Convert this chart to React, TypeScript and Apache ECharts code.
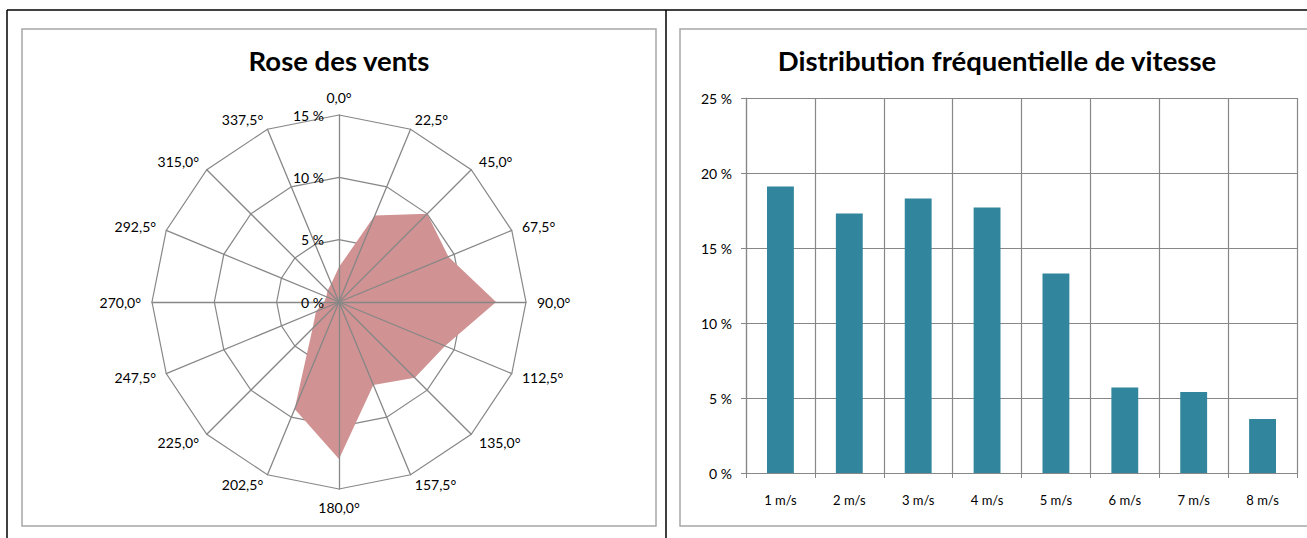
import React, { useEffect, useRef } from "react";
import * as echarts from "echarts";

// ---- Data ----
const directions = [
  "0,0°", "22,5°", "45,0°", "67,5°", "90,0°", "112,5°", "135,0°", "157,5°",
  "180,0°", "202,5°", "225,0°", "247,5°", "270,0°", "292,5°", "315,0°", "337,5°",
];
const windFreq = [2.8, 7.5, 10.0, 9.5, 12.6, 9.2, 8.6, 7.2, 12.6, 9.3, 3.0, 2.0, 1.2, 1.1, 1.3, 1.6];
const roseMax = 15;
const roseSplits = 3;

const speedCategories = ["1 m/s", "2 m/s", "3 m/s", "4 m/s", "5 m/s", "6 m/s", "7 m/s", "8 m/s"];
const speedFreq = [19.1, 17.3, 18.3, 17.7, 13.3, 5.7, 5.4, 3.6];
const speedMax = 25;
const speedInterval = 5;

const FONT = "Lato, 'Open Sans', sans-serif";
const GRID = "#878787";

export default function App() {
  const ref = useRef<HTMLDivElement>(null);

  useEffect(() => {
    if (!ref.current) return;
    const chart = echarts.init(ref.current, null, { renderer: "svg" });

    // ECharts radar goes counter-clockwise; reorder so compass directions run clockwise
    const order = [0, ...Array.from({ length: directions.length - 1 }, (_, k) => directions.length - 1 - k)];
    const gridIndicators = order.map((i) => ({ name: directions[i], min: 0, max: roseMax }));
    const spokeIndicators = order.map((i, k) =>
      k === 0
        ? {
            name: directions[i],
            min: 0,
            max: roseMax,
            axisLabel: {
              show: true,
              formatter: "{value} %",
              color: "#000",
              fontSize: 14,
              fontFamily: FONT,
              margin: 15,
            },
          }
        : { name: directions[i], min: 0, max: roseMax }
    );
    const roseValues = order.map((i) => windFreq[i]);

    const center = [339, 302];
    const radius = 187;

    chart.setOption({
      animation: false,
      backgroundColor: "#fff",
      title: [
        {
          text: "Rose des vents",
          left: 334,
          top: 41,
          textAlign: "center",
          textStyle: { fontFamily: FONT, fontWeight: "bold", fontSize: 27.5, color: "#000" },
        },
        {
          text: "Distribution fréquentielle de vitesse",
          left: 992,
          top: 41,
          textAlign: "center",
          textStyle: { fontFamily: FONT, fontWeight: "bold", fontSize: 27.5, color: "#000" },
        },
      ],
      graphic: [
        { type: "line", shape: { x1: 7, y1: 10, x2: 1307, y2: 10 }, style: { stroke: "#000", lineWidth: 1.5 } },
        { type: "line", shape: { x1: 7, y1: 10, x2: 7, y2: 538 }, style: { stroke: "#000", lineWidth: 1.5 } },
        { type: "line", shape: { x1: 666, y1: 10, x2: 666, y2: 538 }, style: { stroke: "#000", lineWidth: 1.5 } },
        { type: "rect", shape: { x: 22, y: 29, width: 634, height: 497 }, style: { fill: "none", stroke: "#A6A6A6", lineWidth: 1.5 } },
        { type: "rect", shape: { x: 680, y: 29, width: 640, height: 497 }, style: { fill: "none", stroke: "#A6A6A6", lineWidth: 1.5 } },
      ],
      radar: [
        {
          center,
          radius,
          startAngle: 90,
          shape: "polygon",
          splitNumber: roseSplits,
          indicator: gridIndicators,
          nameGap: 11,
          axisName: { show: true, color: "#000", fontSize: 14, fontFamily: FONT },
          splitLine: { lineStyle: { color: GRID, width: 1.2 } },
          splitArea: { show: false },
          axisLine: { show: false },
          axisTick: { show: false },
          axisLabel: { show: false },
          z: 0,
        },
        {
          center,
          radius,
          startAngle: 90,
          shape: "polygon",
          splitNumber: roseSplits,
          indicator: spokeIndicators,
          axisName: { show: false },
          splitLine: { show: false },
          splitArea: { show: false },
          axisLine: { show: true, lineStyle: { color: GRID, width: 1.3 } },
          axisTick: { show: false },
          axisLabel: { show: false },
          z: 5,
        },
      ],
      grid: { left: 746, right: 10, top: 98, bottom: 65 },
      xAxis: {
        type: "category",
        data: speedCategories,
        boundaryGap: true,
        axisLine: { show: true, lineStyle: { color: GRID, width: 1.2 } },
        axisTick: { show: true, length: 5, alignWithLabel: false, lineStyle: { color: GRID } },
        splitLine: { show: true, lineStyle: { color: GRID, width: 1.2 } },
        axisLabel: { color: "#000", fontSize: 13, fontFamily: FONT, margin: 20 },
      },
      yAxis: {
        type: "value",
        min: 0,
        max: speedMax,
        interval: speedInterval,
        axisLine: { show: true, lineStyle: { color: GRID, width: 1.2 } },
        axisTick: { show: true, length: 5, lineStyle: { color: GRID } },
        splitLine: { show: true, lineStyle: { color: GRID, width: 1.2 } },
        axisLabel: { formatter: "{value} %", color: "#000", fontSize: 14, fontFamily: FONT, margin: 14 },
      },
      series: [
        {
          type: "radar",
          radarIndex: 0,
          symbol: "none",
          z: 2,
          lineStyle: { width: 0 },
          areaStyle: { color: "#D09292", opacity: 1 },
          data: [{ value: roseValues }],
        },
        {
          type: "bar",
          data: speedFreq,
          barWidth: "39%",
          itemStyle: { color: "#31859C" },
        },
      ],
    });

    return () => chart.dispose();
  }, []);

  return (
    <div
      ref={ref}
      style={{ position: "absolute", left: 0, top: 0, width: 1307, height: 538 }}
    />
  );
}
